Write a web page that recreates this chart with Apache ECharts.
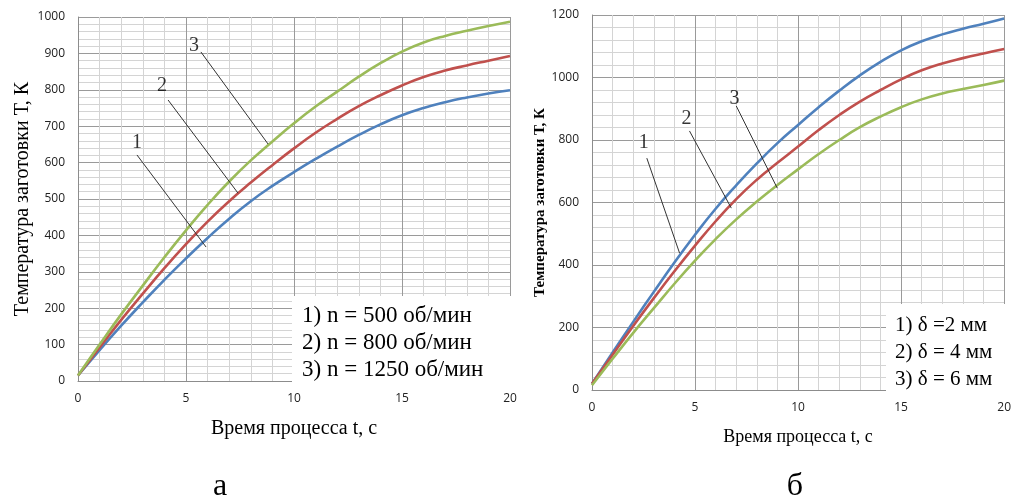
<!DOCTYPE html>
<html>
<head>
<meta charset="utf-8">
<script src="https://cdn.jsdelivr.net/npm/echarts@6/dist/echarts.min.js"></script>
<style>
  html, body { margin: 0; padding: 0; background: #fff; }
  #chart { width: 1014px; height: 502px; }
</style>
</head>
<body>
<div id="chart"></div>
<script>
// Process time, s
const tSec = [0, 1, 2, 3, 4, 5, 6, 7, 8, 9, 10, 11, 12, 13, 14, 15, 16, 17, 18, 19, 20];

// (а) workpiece temperature, K, for three spindle speeds
const tempN500  = [15, 85, 152, 216, 278, 337, 393, 446, 494, 536, 574, 610, 644, 676, 705, 730, 750, 766, 779, 790, 799];
const tempN800  = [15, 92, 168, 240, 310, 376, 438, 494, 545, 593, 639, 682, 720, 755, 785, 812, 835, 853, 867, 880, 893];
const tempN1250 = [15, 100, 183, 262, 340, 414, 484, 548, 606, 658, 708, 754, 795, 836, 873, 905, 930, 948, 962, 975, 987];

// (б) workpiece temperature, K, for three wall thicknesses
const tempD2 = [20, 120, 218, 314, 408, 497, 580, 655, 725, 790, 848, 905, 958, 1007, 1050, 1087, 1116, 1138, 1156, 1172, 1189];
const tempD4 = [20, 113, 205, 294, 380, 462, 540, 611, 673, 727, 779, 832, 880, 923, 960, 994, 1023, 1045, 1062, 1077, 1091];
const tempD6 = [15, 100, 183, 262, 340, 414, 483, 546, 603, 656, 706, 755, 800, 841, 875, 905, 930, 949, 963, 976, 990];

// Curve captions
const legendA = ['1) n = 500 об/мин', '2) n = 800 об/мин', '3) n = 1250 об/мин'];
const legendB = ['1) δ =2 мм', '2) δ = 4 мм', '3) δ = 6 мм'];
const curveNums = ['1', '2', '3'];

// Leader lines [t, T] -> [t, T] and number positions, chart (а)
const leadersA = [[[2.73, 621], [5.93, 368]], [[4.17, 772], [7.41, 516]], [[5.69, 904], [8.80, 651]]];
const numPosA  = [[2.73, 654], [3.89, 810], [5.37, 920]];
// chart (б)
const leadersB = [[[2.66, 742], [4.25, 438]], [[4.73, 829], [6.76, 582]], [[7.0, 909], [8.99, 646]]];
const numPosB  = [[2.51, 790], [4.59, 867], [6.91, 931]];

const xTitle = 'Время процесса t, с';
const yTitle = 'Температура заготовки Т, К';
const panelTags = ['а', 'б'];

const COLORS = ['#4F81BD', '#C0504D', '#9BBB59'];
const SERIF = '"Liberation Serif", "DejaVu Serif", serif';
const SANS = '"Open Sans", "Liberation Sans", sans-serif';

function pairs(ys) { return tSec.map((t, i) => [t, ys[i]]); }

function xAxisCfg(gridIndex, nameSize, gap) {
  return {
    type: 'value', gridIndex, min: 0, max: 20, interval: 5,
    name: xTitle, nameLocation: 'middle', nameGap: gap,
    nameTextStyle: { fontFamily: SERIF, fontSize: nameSize, color: '#000' },
    axisLine: { show: true, lineStyle: { color: '#8c8c8c', width: 1 } },
    axisTick: { show: false },
    axisLabel: { fontFamily: SANS, fontSize: 12, color: '#222', margin: 12 },
    splitLine: { show: true, lineStyle: { color: '#9a9a9a', width: 1 } },
    minorTick: { show: false, splitNumber: 5 },
    minorSplitLine: { show: true, lineStyle: { color: '#d4d4d4', width: 1 } }
  };
}

function yAxisCfg(gridIndex, max, interval, nameStyle, gap) {
  return {
    type: 'value', gridIndex, min: 0, max, interval,
    name: yTitle, nameLocation: 'middle', nameGap: gap,
    nameTextStyle: Object.assign({ fontFamily: SERIF, color: '#000' }, nameStyle),
    axisLine: { show: true, lineStyle: { color: '#8c8c8c', width: 1 } },
    axisTick: { show: false },
    axisLabel: { fontFamily: SANS, fontSize: 12, color: '#222', margin: 13, formatter: v => String(v) },
    splitLine: { show: true, lineStyle: { color: '#9a9a9a', width: 1 } },
    minorTick: { show: false, splitNumber: 5 },
    minorSplitLine: { show: true, lineStyle: { color: '#d4d4d4', width: 1 } }
  };
}

function curve(idx, ys, color) {
  return {
    type: 'line', xAxisIndex: idx, yAxisIndex: idx, data: pairs(ys),
    smooth: true, showSymbol: false, symbol: 'none', silent: true,
    lineStyle: { color, width: 2.6 }, z: 3
  };
}

function leader(idx, seg) {
  return {
    type: 'line', xAxisIndex: idx, yAxisIndex: idx, data: seg,
    showSymbol: false, symbol: 'none', silent: true,
    lineStyle: { color: '#333', width: 1 }, z: 4
  };
}

function numbers(idx, pos, size) {
  return {
    type: 'scatter', xAxisIndex: idx, yAxisIndex: idx,
    data: pos.map((p, i) => ({ value: p, name: curveNums[i] })),
    symbolSize: 1, itemStyle: { color: 'rgba(0,0,0,0)' }, silent: true, z: 5,
    label: { show: true, position: 'inside', formatter: '{b}', fontFamily: SERIF, fontSize: size, color: '#000' }
  };
}

// White caption panel laid over the lower-right corner of a plot
function legendBox(x, y, w, h, lines, textX, firstY, step, size) {
  const out = [{ type: 'rect', z: 100, shape: { x, y, width: w, height: h }, style: { fill: '#fff', stroke: null } }];
  lines.forEach((s, i) => out.push({
    type: 'text', z: 101, x: textX, y: firstY + i * step,
    style: { text: s, fontFamily: SERIF, fontSize: size, fill: '#000', verticalAlign: 'middle' }
  }));
  return out;
}

const series = [
  curve(0, tempN500, COLORS[0]), curve(0, tempN800, COLORS[1]), curve(0, tempN1250, COLORS[2]),
  curve(1, tempD2, COLORS[0]), curve(1, tempD4, COLORS[1]), curve(1, tempD6, COLORS[2])
];
leadersA.forEach(s => series.push(leader(0, s)));
leadersB.forEach(s => series.push(leader(1, s)));
series.push(numbers(0, numPosA, 20));
series.push(numbers(1, numPosB, 20));

const chart = echarts.init(document.getElementById('chart'), null, { renderer: 'canvas' });
chart.setOption({
  backgroundColor: '#fff',
  animation: false,
  grid: [
    { left: 78, top: 17, width: 432, height: 364 },
    { left: 592, top: 15, width: 414, height: 375 }
  ],
  xAxis: [xAxisCfg(0, 20, 38), xAxisCfg(1, 18, 38)],
  yAxis: [
    yAxisCfg(0, 1000, 100, { fontSize: 20 }, 45),
    yAxisCfg(1, 1200, 200, { fontSize: 15, fontWeight: 'bold' }, 42)
  ],
  series,
  graphic: [
    ...legendBox(292, 296, 224, 92, legendA, 302, 316, 27, 23),
    ...legendBox(886, 304, 128, 92, legendB, 895, 325, 27, 21),
    { type: 'text', z: 101, x: 220, y: 487, style: { text: panelTags[0], fontFamily: SERIF, fontSize: 32, fill: '#000', align: 'center', verticalAlign: 'middle' } },
    { type: 'text', z: 101, x: 795, y: 487, style: { text: panelTags[1], fontFamily: SERIF, fontSize: 32, fill: '#000', align: 'center', verticalAlign: 'middle' } }
  ]
});
</script>
</body>
</html>
